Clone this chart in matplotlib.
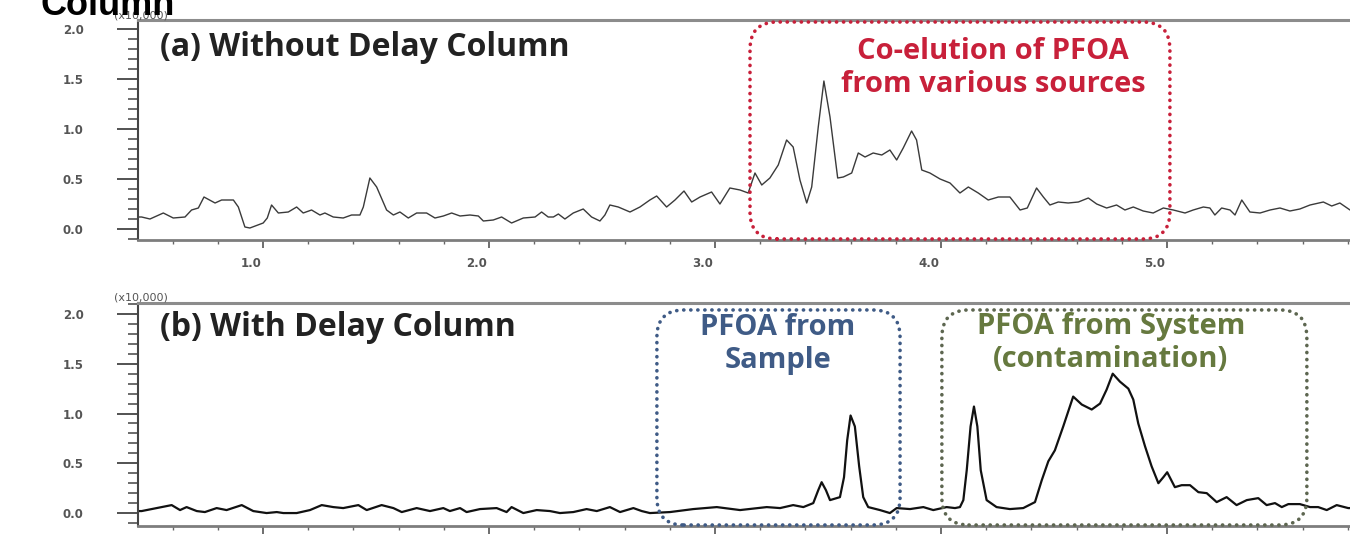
import matplotlib
matplotlib.use("Agg")
import matplotlib.pyplot as plt
from matplotlib.patches import FancyBboxPatch
from matplotlib.ticker import MultipleLocator, FormatStrFormatter
from matplotlib.transforms import ScaledTranslation

# retention time (min) and intensity (x10,000)
time_a = [0.447, 0.463, 0.500, 0.559, 0.603, 0.655, 0.684, 0.714, 0.739, 0.788,
          0.817, 0.869, 0.891, 0.920, 0.942, 1.001, 1.019, 1.038, 1.068, 1.112,
          1.149, 1.178, 1.215, 1.252, 1.274, 1.311, 1.355, 1.392, 1.429, 1.444,
          1.473, 1.503, 1.547, 1.577, 1.606, 1.643, 1.680, 1.724, 1.761, 1.798,
          1.835, 1.872, 1.916, 1.953, 1.975, 2.019, 2.056, 2.100, 2.152, 2.204,
          2.233, 2.262, 2.285, 2.307, 2.336, 2.373, 2.417, 2.454, 2.491, 2.513,
          2.535, 2.572, 2.624, 2.668, 2.712, 2.742, 2.786, 2.823, 2.863, 2.897,
          2.934, 2.985, 3.022, 3.066, 3.111, 3.147, 3.177, 3.207, 3.243, 3.280,
          3.317, 3.346, 3.376, 3.406, 3.428, 3.457, 3.482, 3.509, 3.543, 3.568,
          3.605, 3.634, 3.664, 3.700, 3.738, 3.774, 3.804, 3.833, 3.870, 3.892,
          3.915, 3.951, 3.996, 4.040, 4.084, 4.121, 4.165, 4.209, 4.254, 4.305,
          4.350, 4.382, 4.423, 4.453, 4.482, 4.519, 4.563, 4.608, 4.652, 4.689,
          4.733, 4.777, 4.814, 4.851, 4.895, 4.939, 4.984, 5.028, 5.080, 5.116,
          5.161, 5.190, 5.212, 5.242, 5.279, 5.301, 5.331, 5.367, 5.412, 5.456,
          5.500, 5.544, 5.588, 5.633, 5.692, 5.729, 5.765, 5.810, 5.860]
signal_a = [0.12, 0.12, 0.10, 0.16, 0.11, 0.12, 0.19, 0.21, 0.32, 0.26,
            0.29, 0.29, 0.22, 0.02, 0.01, 0.06, 0.11, 0.24, 0.16, 0.17,
            0.22, 0.16, 0.19, 0.14, 0.16, 0.12, 0.11, 0.14, 0.14, 0.22,
            0.51, 0.42, 0.19, 0.14, 0.17, 0.11, 0.16, 0.16, 0.11, 0.13,
            0.16, 0.13, 0.14, 0.13, 0.08, 0.09, 0.12, 0.06, 0.11, 0.12,
            0.17, 0.12, 0.12, 0.15, 0.10, 0.16, 0.20, 0.12, 0.08, 0.14,
            0.24, 0.22, 0.17, 0.22, 0.29, 0.33, 0.22, 0.29, 0.38, 0.27,
            0.32, 0.37, 0.25, 0.41, 0.39, 0.36, 0.56, 0.44, 0.51, 0.64,
            0.89, 0.82, 0.49, 0.26, 0.42, 1.02, 1.48, 1.12, 0.51, 0.52,
            0.56, 0.76, 0.72, 0.76, 0.74, 0.79, 0.69, 0.81, 0.98, 0.89,
            0.59, 0.56, 0.50, 0.46, 0.36, 0.42, 0.36, 0.29, 0.32, 0.32,
            0.19, 0.21, 0.41, 0.32, 0.24, 0.27, 0.26, 0.27, 0.31, 0.25,
            0.21, 0.24, 0.19, 0.22, 0.18, 0.16, 0.21, 0.19, 0.16, 0.19,
            0.22, 0.21, 0.14, 0.21, 0.19, 0.14, 0.29, 0.17, 0.16, 0.19,
            0.21, 0.18, 0.20, 0.24, 0.27, 0.23, 0.26, 0.19, 0.20]

time_b = [0.447, 0.463, 0.530, 0.596, 0.633, 0.662, 0.707, 0.743, 0.795, 0.839,
          0.906, 0.957, 1.016, 1.061, 1.090, 1.149, 1.208, 1.260, 1.311, 1.355,
          1.422, 1.459, 1.525, 1.577, 1.614, 1.680, 1.739, 1.798, 1.827, 1.872,
          1.901, 1.960, 2.034, 2.078, 2.100, 2.152, 2.211, 2.270, 2.314, 2.373,
          2.432, 2.477, 2.535, 2.580, 2.639, 2.676, 2.712, 2.801, 2.904, 3.008,
          3.111, 3.229, 3.288, 3.346, 3.391, 3.435, 3.457, 3.472, 3.491, 3.509,
          3.553, 3.571, 3.585, 3.600, 3.619, 3.638, 3.656, 3.678, 3.730, 3.774,
          3.804, 3.863, 3.922, 3.966, 4.025, 4.062, 4.084, 4.099, 4.114, 4.131,
          4.146, 4.161, 4.176, 4.202, 4.246, 4.305, 4.364, 4.416, 4.446, 4.475,
          4.504, 4.541, 4.585, 4.623, 4.667, 4.704, 4.733, 4.760, 4.792, 4.829,
          4.851, 4.873, 4.903, 4.932, 4.962, 4.984, 5.001, 5.035, 5.065, 5.102,
          5.139, 5.176, 5.220, 5.264, 5.308, 5.353, 5.404, 5.441, 5.478, 5.508,
          5.537, 5.588, 5.633, 5.669, 5.707, 5.751, 5.802, 5.860]
signal_b = [0.02, 0.02, 0.05, 0.08, 0.03, 0.06, 0.02, 0.01, 0.05, 0.03,
            0.08, 0.02, 0.00, 0.01, 0.00, 0.00, 0.03, 0.08, 0.06, 0.05,
            0.08, 0.03, 0.08, 0.05, 0.01, 0.05, 0.02, 0.05, 0.02, 0.05,
            0.01, 0.04, 0.05, 0.01, 0.06, 0.00, 0.03, 0.02, 0.00, 0.01,
            0.04, 0.02, 0.06, 0.01, 0.05, 0.02, 0.00, 0.01, 0.04, 0.06,
            0.03, 0.06, 0.05, 0.08, 0.06, 0.10, 0.23, 0.31, 0.23, 0.13,
            0.16, 0.36, 0.73, 0.98, 0.87, 0.47, 0.16, 0.06, 0.03, 0.00,
            0.05, 0.04, 0.06, 0.03, 0.06, 0.05, 0.06, 0.13, 0.43, 0.87,
            1.07, 0.87, 0.43, 0.13, 0.06, 0.04, 0.05, 0.11, 0.33, 0.52,
            0.63, 0.87, 1.17, 1.09, 1.04, 1.10, 1.24, 1.40, 1.32, 1.25,
            1.14, 0.90, 0.67, 0.47, 0.30, 0.36, 0.41, 0.26, 0.28, 0.28,
            0.21, 0.20, 0.11, 0.16, 0.08, 0.13, 0.15, 0.08, 0.10, 0.06,
            0.09, 0.09, 0.06, 0.06, 0.03, 0.08, 0.05, 0.05]

# highlighted regions: (t_start, t_end)
coelution_span = (3.155, 5.013)
sample_span = (2.743, 3.819)
system_span = (4.004, 5.619)

RED = "#c8203a"
BLUE = "#3f5b86"
GREEN = "#66793f"
GREEN_DOTS = "#5d6650"

fig = plt.figure(figsize=(13.5, 5.38), dpi=100)
ax_a = fig.add_axes([138 / 1350, 1 - 240 / 538, 1224 / 1350, 220 / 538])
ax_b = fig.add_axes([138 / 1350, 1 - 526 / 538, 1224 / 1350, 223 / 538])

ax_a.plot(time_a, signal_a, color="#3a3a3a", lw=1.0)
ax_b.plot(time_b, signal_b, color="#111111", lw=1.6)

ax_a.set_ylim(-0.11, 2.09)
ax_b.set_ylim(-0.13, 2.11)

shift = ScaledTranslation(-12 / 100, 0, fig.dpi_scale_trans)
for ax in (ax_a, ax_b):
    ax.set_xlim(0.447, 5.863)
    ax.xaxis.set_major_locator(MultipleLocator(1.0))
    ax.xaxis.set_minor_locator(MultipleLocator(0.2))
    ax.yaxis.set_major_locator(MultipleLocator(0.5))
    ax.yaxis.set_minor_locator(MultipleLocator(0.1))
    ax.xaxis.set_major_formatter(FormatStrFormatter("%.1f"))
    ax.yaxis.set_major_formatter(FormatStrFormatter("%.1f"))
    ax.tick_params(axis="y", which="major", direction="out", length=15, width=1.3,
                   color="#444444", pad=24, labelsize=8.5, labelcolor="#555555")
    ax.tick_params(axis="y", which="minor", direction="out", length=7, width=1.1,
                   color="#444444")
    ax.tick_params(axis="x", which="major", direction="out", length=6, width=1.2,
                   color="#555555", pad=6, labelsize=8.5, labelcolor="#555555")
    ax.tick_params(axis="x", which="minor", direction="out", length=3, width=1.0,
                   color="#666666")
    for lab in ax.get_xticklabels() + ax.get_yticklabels():
        lab.set_fontweight("bold")
    for lab in ax.get_xticklabels():
        lab.set_transform(lab.get_transform() + shift)
    ax.spines["right"].set_visible(False)
    ax.spines["top"].set_color("#8c8c8c")
    ax.spines["top"].set_linewidth(2.2)
    ax.spines["bottom"].set_color("#7d7d7d")
    ax.spines["bottom"].set_linewidth(2.0)
    ax.spines["left"].set_color("#444444")
    ax.spines["left"].set_linewidth(1.5)
    ax.text(-0.02, 1.0, "(x10,000)", transform=ax.transAxes, ha="left", va="bottom",
            fontsize=8, color="#555555", family="DejaVu Sans")


def dotted_box(ax, span, y0, y1, color, aspect):
    box = FancyBboxPatch((span[0], y0), span[1] - span[0], y1 - y0,
                         boxstyle="round,pad=0,rounding_size=0.12",
                         mutation_aspect=aspect, transform=ax.transData,
                         fill=False, ec=color, lw=2.6, ls=(0, (0.05, 1.9)),
                         capstyle="round", clip_on=False, zorder=3)
    ax.add_patch(box)


dotted_box(ax_a, coelution_span, -0.10, 2.07, RED, 2.26)
dotted_box(ax_b, sample_span, -0.12, 2.04, BLUE, 2.27)
dotted_box(ax_b, system_span, -0.12, 2.04, GREEN_DOTS, 2.27)

title_font = dict(family="Open Sans", fontweight="bold")
ax_a.text(0.018, 0.877, "(a) Without Delay Column", transform=ax_a.transAxes,
          ha="left", va="center", fontsize=23, color="#222222", **title_font)
ax_b.text(0.018, 0.888, "(b) With Delay Column", transform=ax_b.transAxes,
          ha="left", va="center", fontsize=23, color="#222222", **title_font)

ax_a.text(4.230, 1.61, "Co-elution of PFOA\nfrom various sources", ha="center",
          va="center", fontsize=21, color=RED, linespacing=1.18, **title_font)
ax_b.text(3.279, 1.70, "PFOA from\nSample", ha="center", va="center",
          fontsize=21, color=BLUE, linespacing=1.16, **title_font)
ax_b.text(4.752, 1.71, "PFOA from System\n(contamination)", ha="center",
          va="center", fontsize=21, color=GREEN, linespacing=1.16, **title_font)

fig.text(40 / 1350, 1 - 15 / 538, "Column", ha="left", va="baseline",
         fontsize=26, fontweight="bold", family="Liberation Sans", color="black")

fig.savefig("out.png", dpi=100, facecolor="white")
